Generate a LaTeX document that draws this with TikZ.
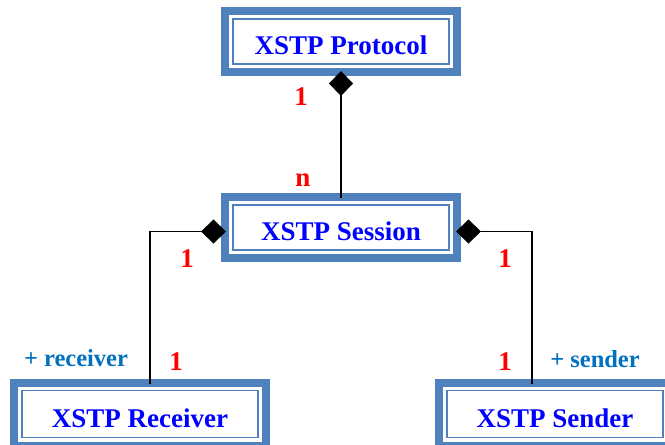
\documentclass[tikz,border=0pt]{standalone}
\usepackage{fontspec}
\setmainfont{Liberation Serif}
\usetikzlibrary{arrows.meta}
\definecolor{boxblue}{HTML}{4F81BD}
\definecolor{rolecol}{HTML}{0070C0}
\begin{document}
\begin{tikzpicture}[x=1pt,y=-1pt,
    cls/.style={draw=boxblue,line width=8pt,fill=white,inner sep=0pt,
      minimum width=232pt,minimum height=61pt,
      text=blue,font=\fontsize{27}{30}\selectfont\bfseries,
      text height=26pt,text depth=0pt,
      path picture={\draw[boxblue,line width=1.5pt]
        ([shift={(8pt,-8pt)}]path picture bounding box.north west) rectangle
        ([shift={(-8pt,8pt)}]path picture bounding box.south east);}},
    comp/.style={line width=1.5pt,{Diamond[length=25pt,width=24pt]}-,
      shorten <=-5pt,shorten >=-5pt},
    mult/.style={anchor=base,text=red,font=\fontsize{27}{30}\selectfont\bfseries},
    role/.style={anchor=base,text=rolecol,font=\fontsize{24.5}{28}\selectfont\bfseries}]
  \useasboundingbox (0,0) rectangle (665,445);
  \clip (0,0) rectangle (665,445);
  \node[cls] (protocol) at (341,41.5) {XSTP Protocol};
  \node[cls] (session) at (341,227.5) {XSTP Session};
  \node[cls,minimum width=252pt,minimum height=63pt] (receiver) at (140,414) {XSTP Receiver};
  \node[cls,minimum height=63pt] (sender) at (555,414) {XSTP Sender};
  % compositions
  \draw[comp] (protocol.south) -- (session.north);
  \draw[comp] ([yshift=-4pt]session.west) -| ([xshift=10pt]receiver.north);
  \draw[comp] ([yshift=-4pt]session.east) -| ([xshift=-23pt]sender.north);
  % multiplicities and roles
  \node[mult] (m1) at (301,105) {1};
  \node[mult] (mn) at (303,186) {n};
  \node[mult] (m2) at (187,267) {1};
  \node[mult] (m3) at (505,267) {1};
  \node[mult] (m4) at (176,370) {1};
  \node[mult] (m5) at (505,370) {1};
  \node[role] (r1) at (76,366) {+ receiver};
  \node[role] (r2) at (595,367) {+ sender};
\end{tikzpicture}
\end{document}
